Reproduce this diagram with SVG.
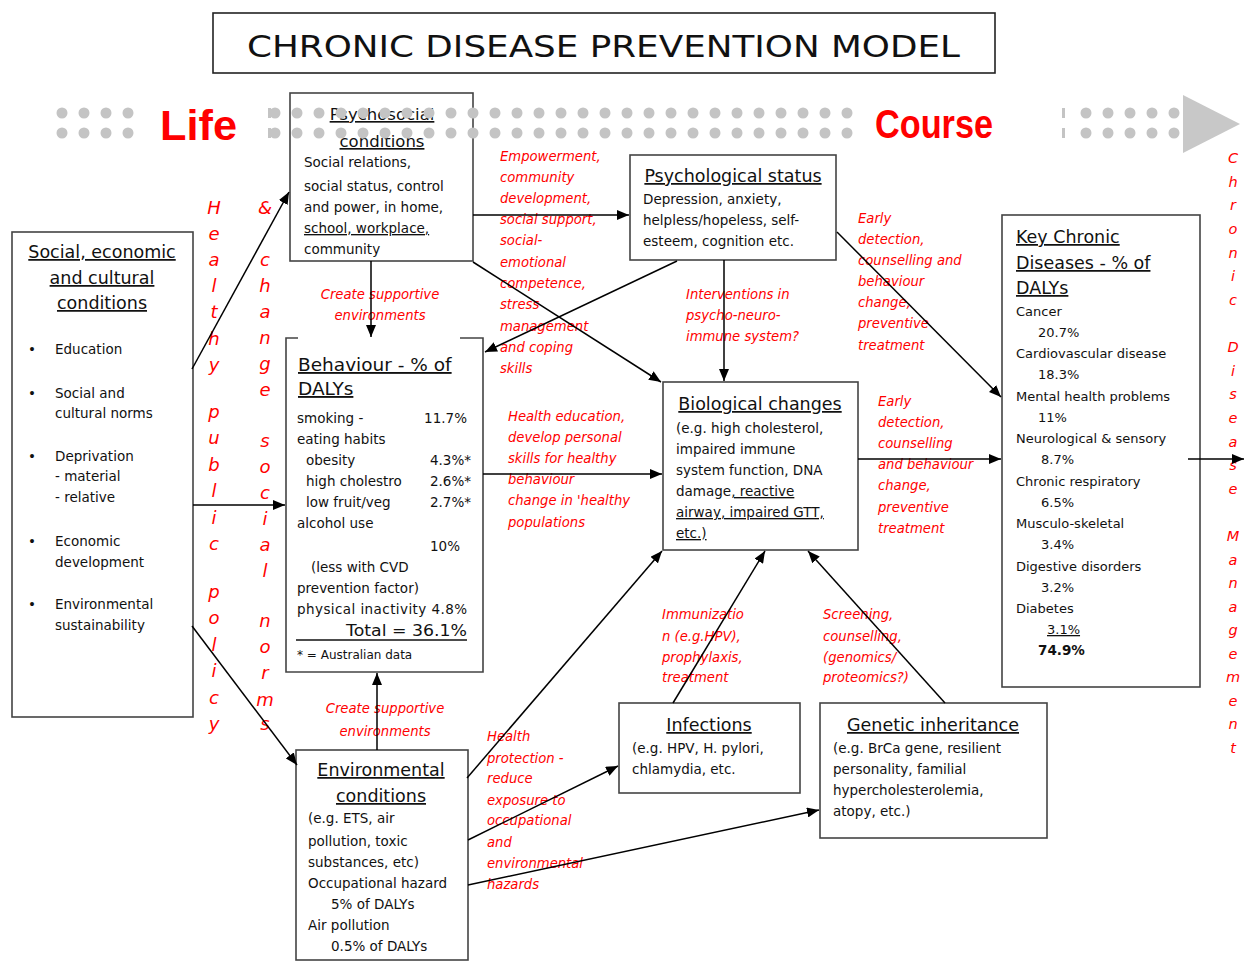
<svg xmlns="http://www.w3.org/2000/svg" width="1245" height="962" viewBox="0 0 1245 962">
<defs>
<marker id="ah" viewBox="0 0 12 10" refX="12" refY="5" markerWidth="12" markerHeight="10" markerUnits="userSpaceOnUse" orient="auto"><path d="M0,0 L12,5 L0,10 z" fill="#000"/></marker>
<style>
.box{fill:#fff;stroke:#444;stroke-width:1.6}
.t{font-family:"DejaVu Sans","Liberation Sans",sans-serif;fill:#111}
.b{font-size:13.5px}
.h{font-size:17.5px;text-decoration:underline}
.u{text-decoration:underline}
.r{font-family:"DejaVu Sans","Liberation Sans",sans-serif;font-style:italic;fill:#ff0000;font-size:13.2px}
.c{stroke:#000;stroke-width:1.5;fill:none;marker-end:url(#ah)}
.dots{stroke:#c4c4c4;stroke-width:11;stroke-linecap:round;stroke-dasharray:0 22;fill:none}
.v{font-family:"DejaVu Sans","Liberation Sans",sans-serif;font-style:italic;fill:#ff0000;font-size:18px;text-anchor:middle}
.v2{font-family:"DejaVu Sans","Liberation Sans",sans-serif;font-style:italic;fill:#ff0000;font-size:14.5px;text-anchor:middle}
.mid{text-anchor:middle}
.end{text-anchor:end}
</style>
</defs>
<rect width="1245" height="962" fill="#fff"/>

<g id="title">
<rect x="213" y="13" width="782" height="60" fill="#fff" stroke="#222" stroke-width="1.6"/>
<text x="247" y="57" font-family="DejaVu Sans, Liberation Sans, sans-serif" font-size="31" fill="#111" textLength="713" lengthAdjust="spacingAndGlyphs">CHRONIC DISEASE PREVENTION MODEL</text>
</g>

<g id="life-course">
<path class="dots" d="M62,113 H140 M62,133 H140 M1086,113 H1175 M1086,133 H1175"/>
<rect x="1062" y="108" width="3" height="10" fill="#c4c4c4"/>
<rect x="1062" y="128" width="3" height="10" fill="#c4c4c4"/>
<polygon points="1183,95 1240,124 1183,153" fill="#c8c8c8"/>
<text x="160" y="140" font-family="Liberation Sans, Arial, sans-serif" font-size="42" font-weight="bold" fill="#ff0000" textLength="77" lengthAdjust="spacingAndGlyphs">Life</text>
<text x="875" y="138" font-family="Liberation Sans, Arial, sans-serif" font-size="40" font-weight="bold" fill="#ff0000" textLength="118" lengthAdjust="spacingAndGlyphs">Course</text>
</g>

<g id="social">
<rect class="box" x="12" y="232" width="181" height="485"/>
<text class="t h mid" x="102" y="258">Social, economic</text>
<text class="t h mid" x="102" y="284">and cultural</text>
<text class="t h mid" x="102" y="309">conditions</text>
<g class="t b">
<text x="28" y="354">•</text><text x="55" y="354">Education</text>
<text x="28" y="398">•</text><text x="55" y="398">Social and</text><text x="55" y="418">cultural norms</text>
<text x="28" y="461">•</text><text x="55" y="461">Deprivation</text><text x="55" y="481">- material</text><text x="55" y="502">- relative</text>
<text x="28" y="546">•</text><text x="55" y="546">Economic</text><text x="55" y="567">development</text>
<text x="28" y="609">•</text><text x="55" y="609">Environmental</text><text x="55" y="630">sustainability</text>
</g>
</g>

<g id="psychosocial">
<rect class="box" x="290" y="93" width="183" height="168"/>
<text class="t mid u" x="382" y="120" font-size="16.5">Psychosocial</text>
<text class="t mid u" x="382" y="147" font-size="16.5">conditions</text>
<g class="t b">
<text x="304" y="167">Social relations,</text>
<text x="304" y="191">social status, control</text>
<text x="304" y="212">and power, in home,</text>
<text x="304" y="233" class="u">school, workplace,</text>
<text x="304" y="254">community</text>
</g>
</g>

<path class="dots" d="M275,113 H860 M275,133 H860"/>
<rect x="268" y="108" width="3" height="10" fill="#c4c4c4"/>
<rect x="268" y="128" width="3" height="10" fill="#c4c4c4"/>

<g id="psychological">
<rect class="box" x="630" y="155" width="206" height="105"/>
<text class="t h mid" x="733" y="182">Psychological status</text>
<g class="t b">
<text x="643" y="204">Depression, anxiety,</text>
<text x="643" y="225">helpless/hopeless, self-</text>
<text x="643" y="246">esteem, cognition etc.</text>
</g>
</g>

<g id="behaviour">
<rect x="286" y="338" width="197" height="334" fill="#fff"/>
<path d="M298,338 H286 V672 H483 V338 H460" fill="none" stroke="#444" stroke-width="1.6"/>
<text class="t u" x="298" y="371" font-size="18.5">Behaviour - % of</text>
<text class="t u" x="298" y="395" font-size="18.5">DALYs</text>
<g class="t b">
<text x="297" y="423">smoking -</text><text class="end" x="467" y="423">11.7%</text>
<text x="297" y="444">eating habits</text>
<text x="306" y="465">obesity</text><text class="end" x="471" y="465">4.3%*</text>
<text x="306" y="486">high cholestro</text><text class="end" x="471" y="486">2.6%*</text>
<text x="306" y="507">low fruit/veg</text><text class="end" x="471" y="507">2.7%*</text>
<text x="297" y="528">alcohol use</text>
<text class="end" x="460" y="551">10%</text>
<text x="311" y="572">(less with CVD</text>
<text x="297" y="593">prevention factor)</text>
<text x="297" y="614" textLength="170" lengthAdjust="spacing">physical inactivity 4.8%</text>
</g>
<text class="t" x="346" y="636" font-size="16.5" textLength="121" lengthAdjust="spacingAndGlyphs">Total = 36.1%</text>
<line x1="296" y1="640" x2="467" y2="640" stroke="#111" stroke-width="1.5"/>
<text class="t" x="297" y="659" font-size="12">* = Australian data</text>
</g>

<g id="biological">
<rect class="box" x="663" y="382" width="195" height="168"/>
<text class="t h mid" x="760" y="410">Biological changes</text>
<g class="t b">
<text x="676" y="433">(e.g. high cholesterol,</text>
<text x="676" y="454">impaired immune</text>
<text x="676" y="475">system function,  DNA</text>
<text x="676" y="496">damage<tspan class="u">, reactive</tspan></text>
<text x="676" y="517" class="u">airway, impaired GTT,</text>
<text x="676" y="538" class="u">etc.)</text>
</g>
</g>

<g id="key-diseases">
<rect class="box" x="1002" y="215" width="198" height="472"/>
<text class="t h" x="1016" y="243">Key Chronic</text>
<text class="t h" x="1016" y="269">Diseases - % of</text>
<text class="t h" x="1016" y="294">DALYs</text>
<g class="t" font-size="13">
<text x="1016" y="316">Cancer</text>
<text x="1038" y="337">20.7%</text>
<text x="1016" y="358">Cardiovascular disease</text>
<text x="1038" y="379">18.3%</text>
<text x="1016" y="401">Mental health problems</text>
<text x="1038" y="422">11%</text>
<text x="1016" y="443">Neurological &amp; sensory</text>
<text x="1041" y="464">8.7%</text>
<text x="1016" y="486">Chronic respiratory</text>
<text x="1041" y="507">6.5%</text>
<text x="1016" y="528">Musculo-skeletal</text>
<text x="1041" y="549">3.4%</text>
<text x="1016" y="571">Digestive disorders</text>
<text x="1041" y="592">3.2%</text>
<text x="1016" y="613">Diabetes</text>
<text x="1047" y="634" class="u">3.1%</text>
<text x="1038" y="655" font-weight="bold" font-size="13.5">74.9%</text>
</g>
</g>

<g id="infections">
<rect class="box" x="619" y="703" width="181" height="90"/>
<text class="t h mid" x="709" y="731">Infections</text>
<g class="t b">
<text x="632" y="753">(e.g. HPV, H. pylori,</text>
<text x="632" y="774">chlamydia, etc.</text>
</g>
</g>

<g id="genetic">
<rect class="box" x="820" y="703" width="227" height="135"/>
<text class="t h mid" x="933" y="731">Genetic inheritance</text>
<g class="t b">
<text x="833" y="753">(e.g. BrCa gene, resilient</text>
<text x="833" y="774">personality, familial</text>
<text x="833" y="795">hypercholesterolemia,</text>
<text x="833" y="816">atopy, etc.)</text>
</g>
</g>

<g id="environmental">
<rect class="box" x="296" y="750" width="172" height="210"/>
<text class="t h mid" x="381" y="776">Environmental</text>
<text class="t h mid" x="381" y="802">conditions</text>
<g class="t b">
<text x="308" y="823">(e.g. ETS, air</text>
<text x="308" y="846">pollution, toxic</text>
<text x="308" y="867">substances, etc)</text>
<text x="308" y="888">Occupational hazard</text>
<text x="331" y="909">5% of DALYs</text>
<text x="308" y="930">Air pollution</text>
<text x="331" y="951">0.5% of DALYs</text>
</g>
</g>

<g id="labels">
<g class="r">
<text x="500" y="161">Empowerment,</text>
<text x="500" y="182">community</text>
<text x="500" y="203">development,</text>
<text x="500" y="224">social support,</text>
<text x="500" y="245">social-</text>
<text x="500" y="267">emotional</text>
<text x="500" y="288">competence,</text>
<text x="500" y="309">stress</text>
<text x="500" y="331">management</text>
<text x="500" y="352">and coping</text>
<text x="500" y="373">skills</text>

<text x="380" y="299" class="mid">Create supportive</text>
<text x="380" y="320" class="mid">environments</text>

<text x="508" y="421">Health education,</text>
<text x="508" y="442">develop personal</text>
<text x="508" y="463">skills for  healthy</text>
<text x="508" y="484">behaviour</text>
<text x="508" y="505">change in 'healthy</text>
<text x="508" y="527">populations</text>

<text x="686" y="299">Interventions in</text>
<text x="686" y="320">psycho-neuro-</text>
<text x="686" y="341">immune system?</text>

<text x="858" y="223">Early</text>
<text x="858" y="244">detection,</text>
<text x="858" y="265">counselling and</text>
<text x="858" y="286">behaviour</text>
<text x="858" y="307">change,</text>
<text x="858" y="328">preventive</text>
<text x="858" y="350">treatment</text>

<text x="878" y="406">Early</text>
<text x="878" y="427">detection,</text>
<text x="878" y="448">counselling</text>
<text x="878" y="469">and behaviour</text>
<text x="878" y="490">change,</text>
<text x="878" y="512">preventive</text>
<text x="878" y="533">treatment</text>

<text x="662" y="619">Immunizatio</text>
<text x="662" y="641">n (e.g.HPV),</text>
<text x="662" y="662">prophylaxis,</text>
<text x="662" y="682">treatment</text>

<text x="823" y="619">Screening,</text>
<text x="823" y="641">counselling,</text>
<text x="823" y="662">(genomics/</text>
<text x="823" y="682">proteomics?)</text>

<text x="487" y="741">Health</text>
<text x="487" y="763">protection -</text>
<text x="487" y="783">reduce</text>
<text x="487" y="805">exposure to</text>
<text x="487" y="825">occupational</text>
<text x="487" y="847">and</text>
<text x="487" y="868">environmental</text>
<text x="487" y="889">hazards</text>
</g>
<text class="r mid" x="385" y="713" font-size="16">Create supportive</text>
<text class="r mid" x="385" y="736" font-size="16">environments</text>

<text class="v" x="214 214 214 214 214 214 214 214 214 214 214 214 214 214 214 214 214 214 214 214 214" y="214 240 266 292 318 345 371 394 418 444 471 497 524 550 574 598 624 651 677 704 730">Healthy public policy</text>
<text class="v" x="265 265 265 265 265 265 265 265 265 265 265 265 265 265 265 265 265 265 265 265 265" y="214 240 266 292 318 344 370 396 422 447 473 499 525 551 577 603 627 653 679 706 730">&amp; change social norms</text>
<text class="v2" x="1233 1233 1233 1233 1233 1233 1233 1233 1233 1233 1233 1233 1233 1233 1233 1233 1233 1233 1233 1233 1233 1233 1233 1233 1233 1233" y="163 187 210 234 258 281 305 328 352 376 399 423 447 470 494 517 541 565 588 612 635 659 682 706 729 753">Chronic Disease Management</text>
</g>

<g id="connectors">
<path class="c" d="M192,369 L289,192"/>
<path class="c" d="M193,505 L285,505"/>
<path class="c" d="M192,626 L297,765"/>
<path class="c" d="M371,261 L371,337"/>
<path class="c" d="M473,215 L629,215"/>
<path class="c" d="M473,262 L661,382"/>
<path class="c" d="M677,261 L485,352"/>
<path class="c" d="M724,260 L724,381"/>
<path class="c" d="M837,232 L1001,397"/>
<path class="c" d="M483,474 L662,474"/>
<path class="c" d="M858,459 L1001,459"/>
<path class="c" d="M467,778 L662,551"/>
<path class="c" d="M673,703 L765,551"/>
<path class="c" d="M945,703 L808,551"/>
<path class="c" d="M377,750 L377,673"/>
<path class="c" d="M468,840 L618,766"/>
<path class="c" d="M468,885 L819,810"/>
<path class="c" d="M1188,459 L1244,459"/>
</g>
</svg>
